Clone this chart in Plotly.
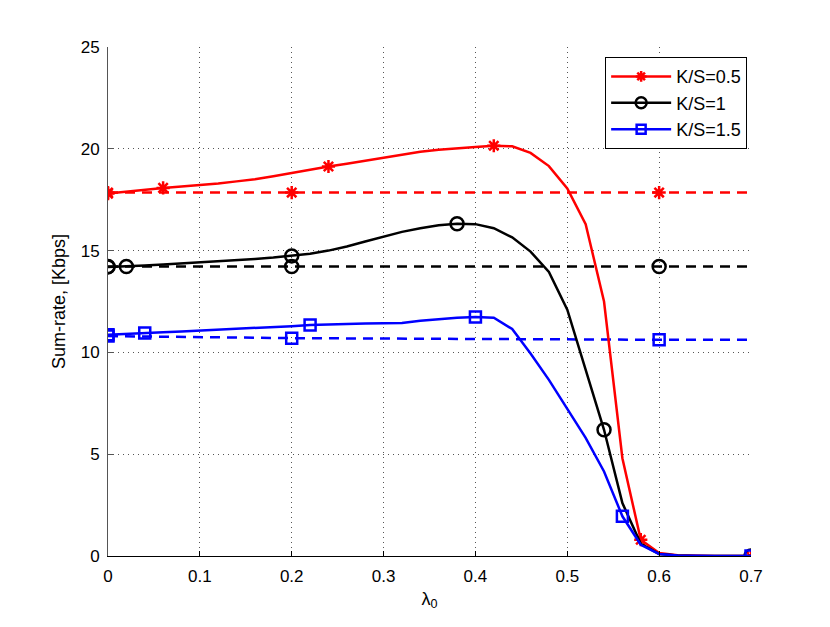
import plotly.graph_objects as go

# lambda_0 values (step 0.02)
lam = [round(0.02 * i, 2) for i in range(36)]

# solid curves
rate_05 = [17.8, 17.9, 18.0, 18.08, 18.15, 18.22, 18.3, 18.4, 18.5, 18.65,
           18.82, 18.98, 19.13, 19.27, 19.42, 19.57, 19.72, 19.85, 19.95, 20.03,
           20.09, 20.15, 20.12, 19.8, 19.15, 18.05, 16.3, 12.5, 4.8, 0.8,
           0.15, 0.04, 0.01, 0.0, 0.0, 0.0]
rate_1 = [14.2, 14.22, 14.27, 14.32, 14.37, 14.42, 14.47, 14.53, 14.59, 14.66,
          14.74, 14.85, 15.0, 15.2, 15.45, 15.7, 15.92, 16.1, 16.25, 16.32,
          16.3, 16.1, 15.65, 14.95, 13.95, 12.1, 9.15, 6.2, 2.6, 0.6,
          0.1, 0.02, 0.0, 0.0, 0.0, 0.0]
rate_15 = [10.87, 10.9, 10.95, 10.99, 11.03, 11.07, 11.11, 11.15, 11.19, 11.24,
           11.29, 11.35, 11.38, 11.4, 11.42, 11.43, 11.45, 11.55, 11.63, 11.7,
           11.74, 11.7, 11.15, 9.95, 8.65, 7.25, 5.8, 4.15, 1.95, 0.55,
           0.1, 0.02, 0.0, 0.0, 0.0, 0.0]

# indices of the points that carry a marker on each solid curve
mk_05 = [0, 3, 12, 21, 29, 35]
mk_1 = [0, 1, 10, 19, 27, 35]
mk_15 = [0, 2, 11, 20, 28, 35]

# dashed (reference) curves
lam_ref = [0.0, 0.2, 0.6, 0.7]
ref_05 = [17.85, 17.85, 17.85, 17.85]
ref_1 = [14.22, 14.22, 14.22, 14.22]
ref_15 = [10.8, 10.7, 10.62, 10.62]
ref_mk = [0, 1, 2]

series = [
    ("K/S=0.5", "#ff0000", "asterisk", 11, rate_05, mk_05, ref_05),
    ("K/S=1", "#000000", "circle-open", 13, rate_1, mk_1, ref_1),
    ("K/S=1.5", "#0000ff", "square-open", 11, rate_15, mk_15, ref_15),
]

fig = go.Figure()

for name, col, sym, sz, y, mk, ref in series:
    # dashed reference lines
    fig.add_trace(go.Scatter(x=lam_ref, y=ref, mode="lines",
                             line=dict(color=col, width=2.5, dash="10px,7px"),
                             showlegend=False, hoverinfo="skip"))
    fig.add_trace(go.Scatter(x=[lam_ref[i] for i in ref_mk], y=[ref[i] for i in ref_mk],
                             mode="markers", showlegend=False,
                             marker=dict(symbol=sym, size=sz, color=col,
                                         line=dict(color=col, width=2.5))))

for name, col, sym, sz, y, mk, ref in series:
    fig.add_trace(go.Scatter(x=lam, y=y, mode="lines",
                             line=dict(color=col, width=2.5),
                             showlegend=False))
    fig.add_trace(go.Scatter(x=[lam[i] for i in mk], y=[y[i] for i in mk],
                             mode="markers", showlegend=False,
                             marker=dict(symbol=sym, size=sz, color=col,
                                         line=dict(color=col, width=2.5))))

# legend entries (line + marker)
for name, col, sym, sz, y, mk, ref in series:
    fig.add_trace(go.Scatter(x=[None], y=[None], mode="lines+markers", name=name,
                             line=dict(color=col, width=2.5),
                             marker=dict(symbol=sym, size=sz - 2, color=col,
                                         line=dict(color=col, width=2.5))))

fig.update_layout(
    width=830, height=627,
    paper_bgcolor="white", plot_bgcolor="white",
    margin=dict(l=100, r=87, t=39, b=79),
    font=dict(family="Liberation Sans, Arial, sans-serif", size=17, color="black"),
    legend=dict(x=0.994, y=0.98, xanchor="right", yanchor="top",
                bordercolor="black", borderwidth=1, bgcolor="white",
                font=dict(size=18), tracegroupgap=0, itemwidth=60),
    xaxis=dict(range=[0, 0.7],
               showgrid=True, gridcolor="#555555", griddash="1px,4px", gridwidth=1,
               zeroline=False, showline=True, linecolor="black", linewidth=1,
               ticks="inside", ticklen=5, tickcolor="black", ticklabelstandoff=5,
               title=dict(text="λ<sub>0</sub>", standoff=6, font=dict(size=18)),
               tickvals=[0, 0.1, 0.2, 0.3, 0.4, 0.5, 0.6, 0.7],
               ticktext=["0", "0.1", "0.2", "0.3", "0.4", "0.5", "0.6", "0.7"]),
    yaxis=dict(range=[0, 25], dtick=5,
               showgrid=True, gridcolor="#555555", griddash="1px,4px", gridwidth=1,
               zeroline=False, showline=True, linecolor="#555555", linewidth=1,
               ticks="inside", ticklen=5, tickcolor="#555555", ticklabelstandoff=4,
               title=dict(text="Sum-rate, [Kbps]", standoff=10, font=dict(size=18))),
)

fig.write_html("out.html")
